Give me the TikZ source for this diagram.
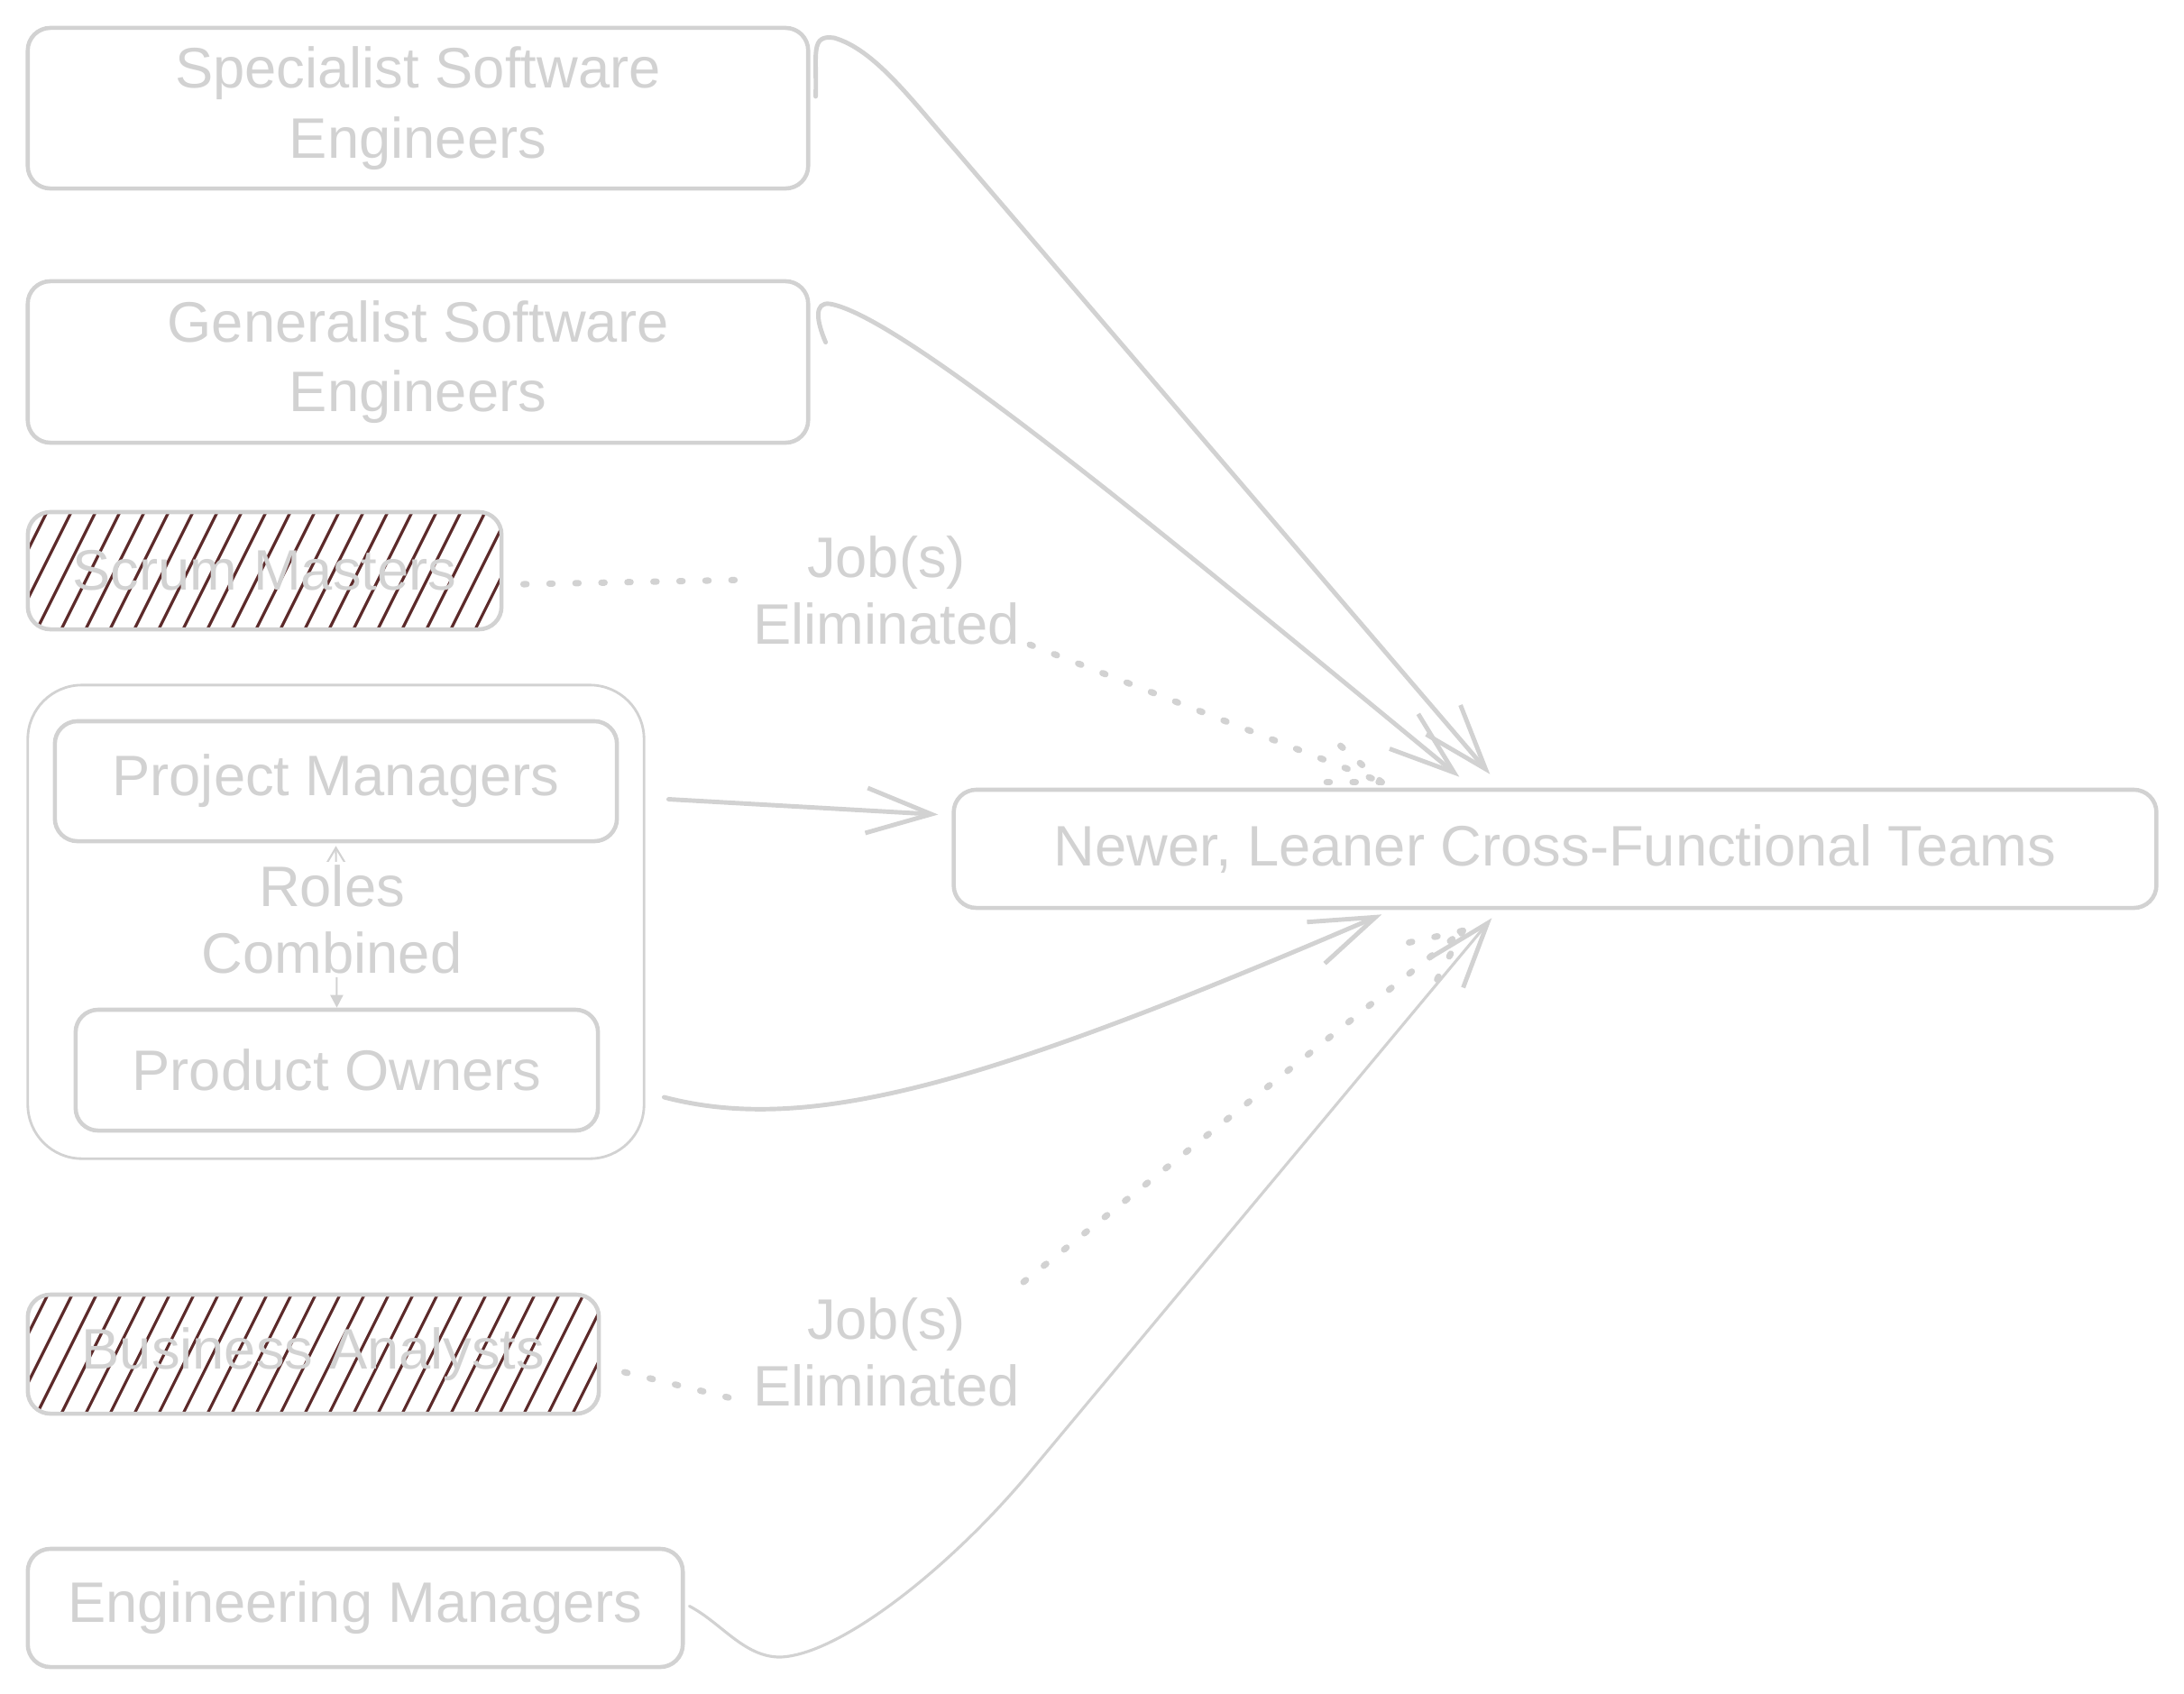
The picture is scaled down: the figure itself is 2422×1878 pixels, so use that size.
\documentclass[tikz,border=0pt]{standalone}
\usepackage{fontspec}
\setmainfont{Liberation Sans}
\usetikzlibrary{arrows.meta}
\definecolor{ink}{RGB}{210,210,210}
\definecolor{hatchc}{RGB}{92,42,42}
\begin{document}
\begin{tikzpicture}[x=0.01cm,y=-0.01cm,
  box/.style={draw=ink, line width=1.3pt, rounded corners=0.25cm, align=center, text=ink,
    font=\fontsize{18}{22}\selectfont, inner sep=0pt},
  lbl/.style={text=ink, align=center, font=\fontsize{18}{21}\selectfont, inner sep=1pt},
  conn/.style={draw=ink, line width=1.4pt, line cap=round, line join=round,
    -{Straight Barb[length=0.72cm,width=0.5cm,line width=1.4pt]}},
  dots/.style={draw=ink, line width=2pt, line cap=round, dash pattern=on 1pt off 7.2pt},
  hatchline/.style={draw=hatchc, line width=0.9pt}
]
\path[use as bounding box] (0,0) rectangle (2422,1878);

% hatching of eliminated roles
\begin{scope}
  \clip[rounded corners=0.25cm] (31,568) rectangle (556,698);
  \foreach \i in {-40,-13,...,560} \draw[hatchline] (\i,698) -- ++(65,-130);
\end{scope}
\begin{scope}
  \clip[rounded corners=0.25cm] (31,1436) rectangle (664,1568);
  \foreach \i in {-40,-13,...,670} \draw[hatchline] (\i,1568) -- ++(66,-132);
\end{scope}

% nodes
\node[box, minimum width=8.65cm, minimum height=1.78cm] (spec) at (463.5,120) {Specialist Software\\Engineers};
\node[box, minimum width=8.65cm, minimum height=1.79cm] (gen) at (463.5,401.5) {Generalist Software\\Engineers};
\node[box, minimum width=5.25cm, minimum height=1.30cm] (scrum) at (293.5,633) {Scrum Masters};
\node[draw=ink, line width=0.8pt, rounded corners=0.6cm, minimum width=6.83cm, minimum height=5.25cm, inner sep=0pt] (group) at (372.5,1022.5) {};
\node[box, minimum width=6.23cm, minimum height=1.33cm] (pm) at (372.5,866.5) {Project Managers};
\node[box, minimum width=5.79cm, minimum height=1.34cm] (po) at (373.5,1187) {Product Owners};
\node[box, minimum width=6.33cm, minimum height=1.32cm] (ba) at (347.5,1502) {Business Analysts};
\node[box, minimum width=7.26cm, minimum height=1.31cm] (em) at (394,1783.5) {Engineering Managers};
\node[box, minimum width=13.33cm, minimum height=1.31cm] (newer) at (1724.5,941.5) {Newer, Leaner Cross-Functional Teams};

\node[lbl] (lab1) at (983,655) {Job(s)\\Eliminated};
\node[lbl] (lab2) at (983,1500) {Job(s)\\Eliminated};

% roles combined
\draw[draw=ink, line width=0.6pt, {Triangle[length=4pt,width=4pt]}-{Straight Barb[length=5pt,width=6pt]}]
  (po.north) -- ([shift={(0,3)}]pm.south);
\node[lbl, fill=white] (roles) at (368,1020) {Roles\\Combined};

% solid connectors
\draw[conn] ([shift={(6,-13)}]spec.east) .. controls (906,60) and (898,38) .. (925,42)
  .. controls (970,55) and (1010,110) .. (1060,167) -- ([shift={(597,-15)}]newer.north west);
\draw[conn] ([shift={(17,-22)}]gen.east) .. controls (905,355) and (903,335) .. (920,337)
  .. controls (1000,350) and (1300,600) .. ([shift={(563,-12)}]newer.north west);
\draw[conn] ([shift={(55,20)}]pm.east) -- ([shift={(-15,-38)}]newer.west);
\draw[conn] ([shift={(71,30)}]po.east) .. controls (900,1260) and (1100,1200) .. ([shift={(477,5)}]newer.south west);
\draw[conn, line width=0.9pt] ([shift={(5,-2)}]em.east) .. controls (800,1800) and (825,1838) .. (865,1838)
  .. controls (930,1836) and (1052,1741) .. (1142,1633) -- ([shift={(599,9)}]newer.south west);

% dotted connectors
\coordinate (t1) at ([shift={(477,-6)}]newer.north west);
\coordinate (t2) at ([shift={(567,23)}]newer.south west);
\draw[dots] ([shift={(22,15)}]scrum.east) -- ([shift={(-149,-12)}]lab1.center);
\draw[dots] ([shift={(159,60)}]lab1.center) -- (t1);
\draw[dots] (t1) -- ++(-52,-46);
\draw[dots] (t1) -- ++(-72,0);
\draw[dots] ([shift={(26,20)}]ba.east) -- ([shift={(-151,56)}]lab2.center);
\draw[dots] ([shift={(152,-78)}]lab2.center) -- (t2);
\draw[dots] (t2) -- ++(-73,16);
\draw[dots] (t2) -- ++(-35,66);
\end{tikzpicture}
\end{document}
